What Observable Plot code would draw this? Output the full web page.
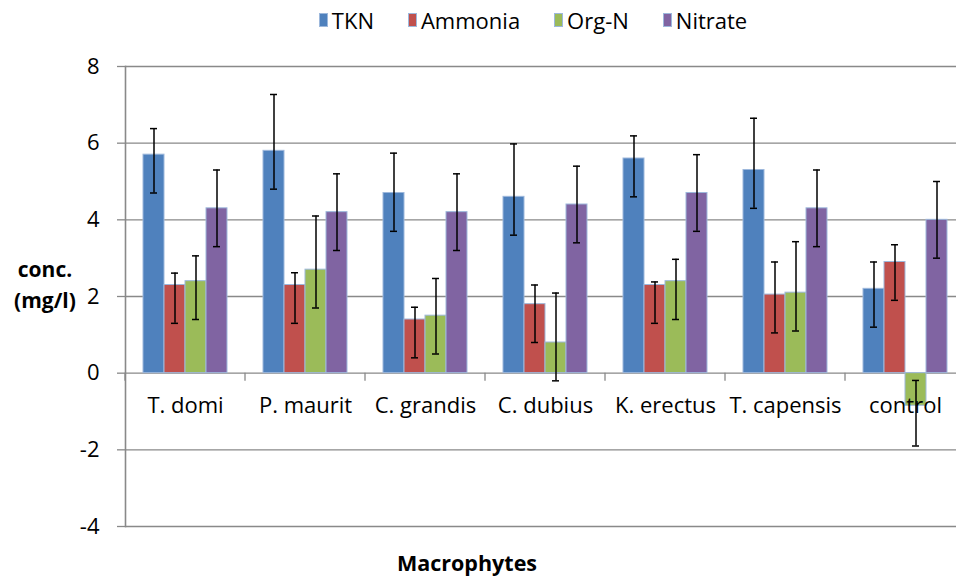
<!DOCTYPE html>
<html>
<head>
<meta charset="utf-8">
<script src="https://cdn.jsdelivr.net/npm/d3@7"></script>
<script src="https://cdn.jsdelivr.net/npm/@observablehq/plot@0.6"></script>
<style>
  html, body { margin: 0; padding: 0; background: #fff; overflow: hidden; }
  body { width: 956px; height: 579px; position: relative; font-family: "Open Sans", sans-serif; color: #000; }
  #legend { position: absolute; top: 4px; left: 110px; width: 846px; height: 32px; display: flex; justify-content: center; align-items: center; font-size: 22px; }
  #legend .item { display: flex; align-items: center; margin: 0 17px; }
  #legend .sw { width: 9px; height: 14px; margin-right: 4px; box-sizing: border-box; border: 1px solid #9db8dc; }
  #chart { position: absolute; top: 40px; left: 0; }
  #ytitle { position: absolute; left: 0; top: 254px; width: 90px; text-align: center; font-weight: bold; font-size: 21px; line-height: 31px; }
  #xtitle { position: absolute; left: 0; top: 548px; width: 934px; text-align: center; font-weight: bold; font-size: 21.5px; line-height: 30px; }
</style>
</head>
<body>
<div id="legend"></div>
<div id="chart"></div>
<div id="ytitle">conc.<br>(mg/l)</div>
<div id="xtitle">Macrophytes</div>
<script>
const categories = ["T. domi", "P. maurit", "C. grandis", "C. dubius", "K. erectus", "T. capensis", "control"];
const series = ["TKN", "Ammonia", "Org-N", "Nitrate"];
const colors = ["#4F81BD", "#C0504D", "#9BBB59", "#8064A2"];
const yTicks = [-4, -2, 0, 2, 4, 6, 8];

const tkn = [5.7, 5.8, 4.7, 4.6, 5.6, 5.3, 2.2];
const tknLow = [4.7, 4.8, 3.7, 3.6, 4.6, 4.3, 1.2];
const tknHigh = [6.38, 7.27, 5.74, 5.98, 6.19, 6.65, 2.9];

const ammonia = [2.3, 2.3, 1.4, 1.8, 2.3, 2.05, 2.9];
const ammoniaLow = [1.3, 1.3, 0.4, 0.8, 1.3, 1.05, 1.9];
const ammoniaHigh = [2.61, 2.62, 1.72, 2.3, 2.38, 2.9, 3.35];

const orgN = [2.4, 2.7, 1.5, 0.8, 2.4, 2.1, -0.85];
const orgNLow = [1.4, 1.7, 0.5, -0.2, 1.4, 1.1, -1.9];
const orgNHigh = [3.06, 4.1, 2.47, 2.09, 2.97, 3.43, -0.19];

const nitrate = [4.3, 4.2, 4.2, 4.4, 4.7, 4.3, 4.0];
const nitrateLow = [3.3, 3.2, 3.2, 3.4, 3.7, 3.3, 3.0];
const nitrateHigh = [5.3, 5.2, 5.2, 5.4, 5.7, 5.3, 5.0];

const seriesData = [
  [tkn, tknLow, tknHigh],
  [ammonia, ammoniaLow, ammoniaHigh],
  [orgN, orgNLow, orgNHigh],
  [nitrate, nitrateLow, nitrateHigh]
];

const rows = [];
categories.forEach((c, i) => {
  series.forEach((s, j) => {
    const [v, lo, hi] = seriesData[j];
    rows.push({category: c, series: s, value: v[i], lo: lo[i], hi: hi[i]});
  });
});

// Legend
const legend = document.getElementById("legend");
series.forEach((s, j) => {
  const item = document.createElement("div");
  item.className = "item";
  const sw = document.createElement("span");
  sw.className = "sw";
  sw.style.background = colors[j];
  const t = document.createElement("span");
  t.textContent = s;
  item.appendChild(sw);
  item.appendChild(t);
  legend.appendChild(item);
});

const gray = "#898989";

function boundaryTicks(index, scales, values, dimensions, context) {
  const g = d3.create("svg:g");
  const x0 = scales.x.range()[0];
  const y0 = scales.y(0);
  g.append("line")
    .attr("x1", x0).attr("x2", x0)
    .attr("y1", y0).attr("y2", y0 + 8)
    .attr("stroke", gray).attr("stroke-width", 1.3);
  return g.node();
}

const chart = Plot.plot({
  width: 956,
  height: 505,
  marginLeft: 123,
  marginRight: -10,
  marginTop: 26,
  marginBottom: 19,
  style: {fontFamily: "'Open Sans', sans-serif", fontSize: "22px", color: "#000", background: "transparent"},
  fx: {domain: categories, padding: 0, axis: null, label: null},
  x: {domain: series, paddingInner: 0, paddingOuter: 0.74, axis: null, label: null},
  y: {domain: [-4, 8], axis: null},
  color: {domain: series, range: colors},
  marks: [
    Plot.gridY(yTicks, {stroke: gray, strokeOpacity: 1, strokeWidth: 1.3}),
    Plot.axisY(yTicks, {tickSize: 8, tickPadding: 18, stroke: gray, strokeWidth: 1.3, label: null, fontSize: 22, tickFormat: d => String(d)}),
    Plot.frame({anchor: "left", facetAnchor: "left", stroke: gray, strokeWidth: 1.6}),
    Plot.barY(rows, {fx: "category", x: "series", y: "value", fill: "series", stroke: "#9db8dc", strokeWidth: 1}),
    Plot.ruleX(rows, {fx: "category", x: "series", y1: "lo", y2: "hi", stroke: "#000", strokeWidth: 1.5}),
    Plot.tickY(rows, {fx: "category", x: "series", y: "lo", stroke: "#000", strokeWidth: 1.5, insetLeft: 7, insetRight: 7}),
    Plot.tickY(rows, {fx: "category", x: "series", y: "hi", stroke: "#000", strokeWidth: 1.5, insetLeft: 7, insetRight: 7}),
    Plot.text(categories, {fx: d => d, y: () => 0, text: d => d, dy: 33, fontSize: 22, fill: "#000"}),
    boundaryTicks
  ]
});
document.getElementById("chart").appendChild(chart);
</script>
</body>
</html>
